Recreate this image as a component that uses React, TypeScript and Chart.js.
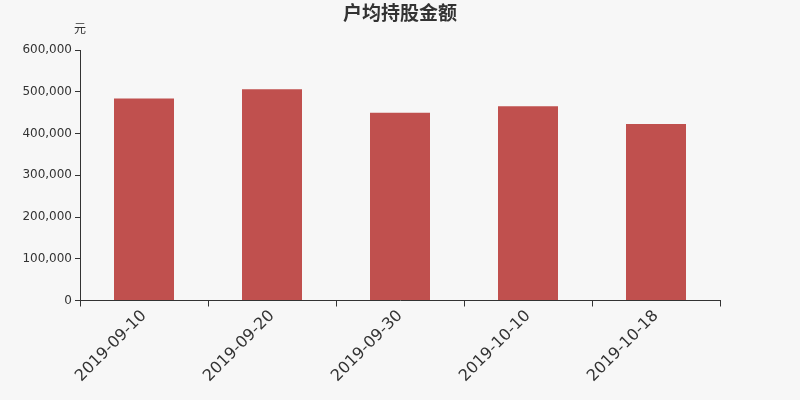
import React, { useEffect, useRef } from "react";
import { Chart, registerables } from "chart.js";

Chart.register(...registerables);

const categories = ["2019-09-10", "2019-09-20", "2019-09-30", "2019-10-10", "2019-10-18"];
const values = [484000, 506000, 450000, 465500, 422500];
const yTicks = [0, 100000, 200000, 300000, 400000, 500000, 600000];
const titleText = "户均持股金额";
const unitText = "元";

const FONT = '"DejaVu Sans", "Noto Sans CJK SC", sans-serif';

export default function App() {
  const ref = useRef<HTMLCanvasElement | null>(null);

  useEffect(() => {
    document.body.style.margin = "0";
    document.body.style.background = "#f7f7f7";
    const canvas = ref.current;
    if (!canvas) return;

    const textPlugin = {
      id: "texts",
      beforeDraw(chart: any) {
        const ctx = chart.ctx;
        ctx.save();
        ctx.fillStyle = "#f7f7f7";
        ctx.fillRect(0, 0, chart.width, chart.height);
        ctx.restore();
      },
      afterDraw(chart: any) {
        const ctx = chart.ctx;
        ctx.save();
        ctx.fillStyle = "#333333";
        ctx.textAlign = "center";
        ctx.textBaseline = "middle";
        ctx.font = 'bold 19px "Noto Sans CJK SC", sans-serif';
        ctx.fillText(titleText, 400, 13);
        ctx.font = '12px "Noto Sans CJK SC", sans-serif';
        ctx.fillText(unitText, chart.chartArea.left, 28);
        ctx.restore();
      },
    };

    const chart = new Chart(canvas, {
      type: "bar",
      data: {
        labels: categories,
        datasets: [
          {
            data: values,
            backgroundColor: "#c0504e",
            barPercentage: 0.46875,
            categoryPercentage: 1,
            inflateAmount: 0,
          },
        ],
      },
      options: {
        animation: false,
        responsive: false,
        devicePixelRatio: 1,
        layout: { padding: { top: 50, right: 80, left: 0, bottom: 0 } },
        plugins: {
          legend: { display: false },
          title: { display: false },
          tooltip: { enabled: false },
        },
        scales: {
          x: {
            z: 1,
            grid: {
              display: true,
              drawOnChartArea: false,
              drawTicks: true,
              tickLength: 6,
              color: "#333333",
              offset: true,
            },
            border: { display: true, color: "#333333", width: 1 },
            ticks: {
              color: "#333333",
              font: { family: FONT, size: 16 },
              minRotation: 45,
              maxRotation: 45,
              padding: 0,
              autoSkip: false,
            },
            afterFit(scale: any) {
              scale.height = 99.5;
            },
          },
          y: {
            min: 0,
            max: 600000,
            afterBuildTicks(scale: any) {
              scale.ticks = yTicks.map((v) => ({ value: v }));
            },
            grid: {
              display: true,
              drawOnChartArea: false,
              drawTicks: true,
              tickLength: 5,
              color: "#333333",
            },
            border: { display: true, color: "#333333", width: 1 },
            ticks: {
              color: "#333333",
              font: { family: FONT, size: 12 },
              padding: 3,
              callback: (v: any) => Number(v).toLocaleString("en-US"),
            },
            afterFit(scale: any) {
              scale.width = 80;
            },
          },
        },
      },
      plugins: [textPlugin],
    });

    return () => chart.destroy();
  }, []);

  return (
    <div style={{ position: "absolute", left: 0, top: 0, width: 800, height: 400, background: "#f7f7f7" }}>
      <canvas ref={ref} width={800} height={400} style={{ width: 800, height: 400 }} />
    </div>
  );
}
